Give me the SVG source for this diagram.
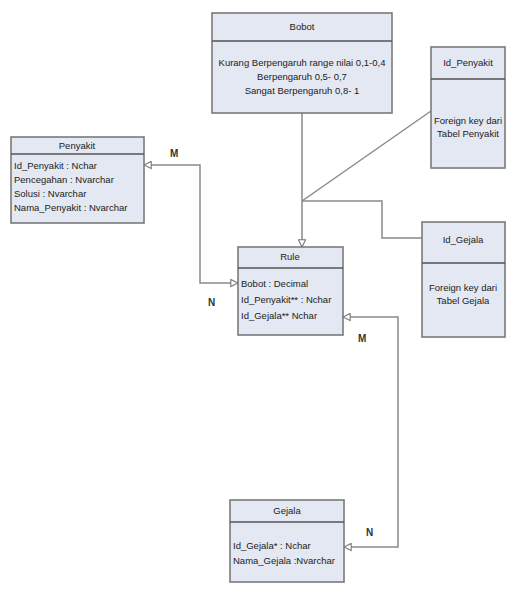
<svg xmlns="http://www.w3.org/2000/svg" width="507" height="594" viewBox="0 0 507 594">
<style>
.box{fill:#e3e8f2;stroke:#7a7a7a;stroke-width:1.6}
.div{stroke:#555;stroke-width:1.5}
.t{font-family:"Liberation Sans Narrow","Liberation Sans",Arial,sans-serif;font-size:9.5px;fill:#222}
.c{text-anchor:middle}
.lbl{font-family:"Liberation Sans",Arial,sans-serif;font-size:10px;font-weight:bold;fill:#333}
.con{fill:none;stroke:#8a8a8a;stroke-width:1.5}
</style>
<defs>
<marker id="tri" viewBox="0 0 10 10" refX="9" refY="5" markerWidth="9" markerHeight="9" markerUnits="userSpaceOnUse" orient="auto-start-reverse">
<path d="M1,1 L9,5 L1,9 z" fill="#fff" stroke="#777" stroke-width="1.2"/>
</marker>
</defs>
<rect width="507" height="594" fill="#fff"/>
<g id="connectors">
<path class="con" d="M144,165 H200 V283 H238" marker-start="url(#tri)" marker-end="url(#tri)"/>
<path class="con" d="M302,113 V247" marker-end="url(#tri)"/>
<path class="con" d="M302,201 L431,111"/>
<path class="con" d="M302,201 H382 V238 H422"/>
<path class="con" d="M343,317 H398 V547 H344" marker-start="url(#tri)" marker-end="url(#tri)"/>
<text class="lbl" x="170" y="157">M</text>
<text class="lbl" x="208" y="306">N</text>
<text class="lbl" x="358" y="342">M</text>
<text class="lbl" x="366" y="536">N</text>
</g>
<g id="bobot">
<rect class="box" x="212" y="13" width="180" height="100"/>
<line class="div" x1="212" y1="41" x2="392" y2="41"/>
<text class="t c" x="302" y="30">Bobot</text>
<text class="t c" x="302" y="66">Kurang Berpengaruh range nilai 0,1-0,4</text>
<text class="t c" x="302" y="80">Berpengaruh 0,5- 0,7</text>
<text class="t c" x="302" y="94">Sangat Berpengaruh 0,8- 1</text>
</g>
<g id="id_penyakit">
<rect class="box" x="431" y="47" width="74" height="121"/>
<line class="div" x1="431" y1="79" x2="505" y2="79"/>
<text class="t c" x="468" y="66">Id_Penyakit</text>
<text class="t c" x="468" y="124">Foreign key dari</text>
<text class="t c" x="468" y="137">Tabel Penyakit</text>
</g>
<g id="penyakit">
<rect class="box" x="11" y="137" width="133" height="86"/>
<line class="div" x1="11" y1="154" x2="144" y2="154"/>
<text class="t c" x="77" y="149">Penyakit</text>
<text class="t" x="14" y="169">Id_Penyakit : Nchar</text>
<text class="t" x="14" y="183">Pencegahan : Nvarchar</text>
<text class="t" x="14" y="197">Solusi : Nvarchar</text>
<text class="t" x="14" y="211">Nama_Penyakit : Nvarchar</text>
</g>
<g id="rule">
<rect class="box" x="238" y="247" width="105" height="88"/>
<line class="div" x1="238" y1="268" x2="343" y2="268"/>
<text class="t c" x="290" y="260">Rule</text>
<text class="t" x="241" y="287">Bobot : Decimal</text>
<text class="t" x="241" y="303">Id_Penyakit** : Nchar</text>
<text class="t" x="241" y="319">Id_Gejala** Nchar</text>
</g>
<g id="id_gejala">
<rect class="box" x="422" y="222" width="83" height="115"/>
<line class="div" x1="422" y1="263" x2="505" y2="263"/>
<text class="t c" x="463" y="243">Id_Gejala</text>
<text class="t c" x="463" y="291">Foreign key dari</text>
<text class="t c" x="463" y="304">Tabel Gejala</text>
</g>
<g id="gejala">
<rect class="box" x="230" y="500" width="114" height="82"/>
<line class="div" x1="230" y1="522" x2="344" y2="522"/>
<text class="t c" x="287" y="514">Gejala</text>
<text class="t" x="233" y="549">Id_Gejala* : Nchar</text>
<text class="t" x="233" y="564">Nama_Gejala :Nvarchar</text>
</g>
</svg>
